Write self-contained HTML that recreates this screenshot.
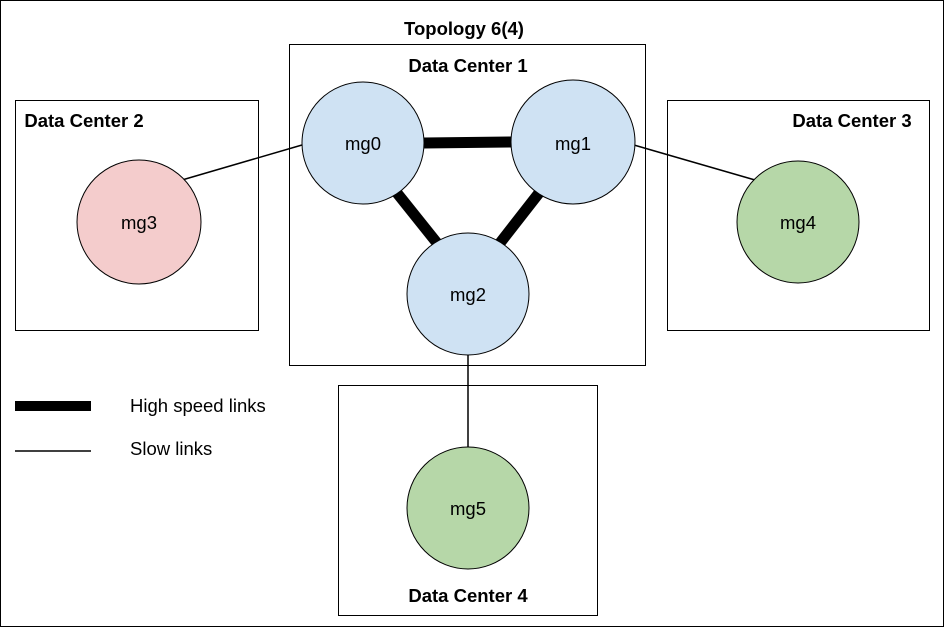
<!DOCTYPE html>
<html><head><style>
html,body{margin:0;padding:0;background:#fff}
</style></head><body>
<svg width="944" height="627" xmlns="http://www.w3.org/2000/svg" style="display:block">
<rect x="0.5" y="0.5" width="943" height="626" fill="#fff" stroke="#000"/>
<g fill="none" stroke="#000" stroke-width="1">
<rect x="289.5" y="44.5" width="356" height="321"/>
<rect x="15.5" y="100.5" width="243" height="230"/>
<rect x="667.5" y="100.5" width="262" height="230"/>
<rect x="338.5" y="385.5" width="259" height="230"/>
</g>
<g stroke="#000">
<line x1="424" y1="143" x2="512" y2="142" stroke-width="11"/>
<line x1="397" y1="193" x2="437" y2="243" stroke-width="11"/>
<line x1="539" y1="193" x2="500" y2="243" stroke-width="11"/>
<line x1="302" y1="145" x2="182" y2="180" stroke-width="1.5"/>
<line x1="634" y1="145" x2="755" y2="180" stroke-width="1.5"/>
<line x1="468" y1="355" x2="468" y2="447" stroke-width="1.5"/>
<line x1="15" y1="406" x2="91" y2="406" stroke-width="10"/>
<line x1="15" y1="451" x2="91" y2="451" stroke-width="1.5"/>
</g>
<g stroke="#000" stroke-width="1">
<circle cx="363" cy="143" r="61" fill="#cfe2f3"/>
<circle cx="573" cy="142" r="62" fill="#cfe2f3"/>
<circle cx="468" cy="294" r="61" fill="#cfe2f3"/>
<circle cx="139" cy="222" r="62" fill="#f4cccc"/>
<circle cx="798" cy="222" r="61" fill="#b6d7a8"/>
<circle cx="468" cy="508" r="61" fill="#b6d7a8"/>
</g>
<g font-family="Liberation Sans, sans-serif" font-size="18.5" fill="#000" text-anchor="middle">
<text x="363" y="150">mg0</text>
<text x="573" y="150">mg1</text>
<text x="468" y="301">mg2</text>
<text x="139" y="229">mg3</text>
<text x="798" y="229">mg4</text>
<text x="468" y="515">mg5</text>
<g font-weight="bold">
<text x="464" y="35">Topology 6(4)</text>
<text x="468" y="72">Data Center 1</text>
<text x="84" y="127">Data Center 2</text>
<text x="852" y="127">Data Center 3</text>
<text x="468" y="602">Data Center 4</text>
</g>
<text x="130" y="412" text-anchor="start">High speed links</text>
<text x="130" y="455" text-anchor="start">Slow links</text>
</g>
</svg>
</body></html>
